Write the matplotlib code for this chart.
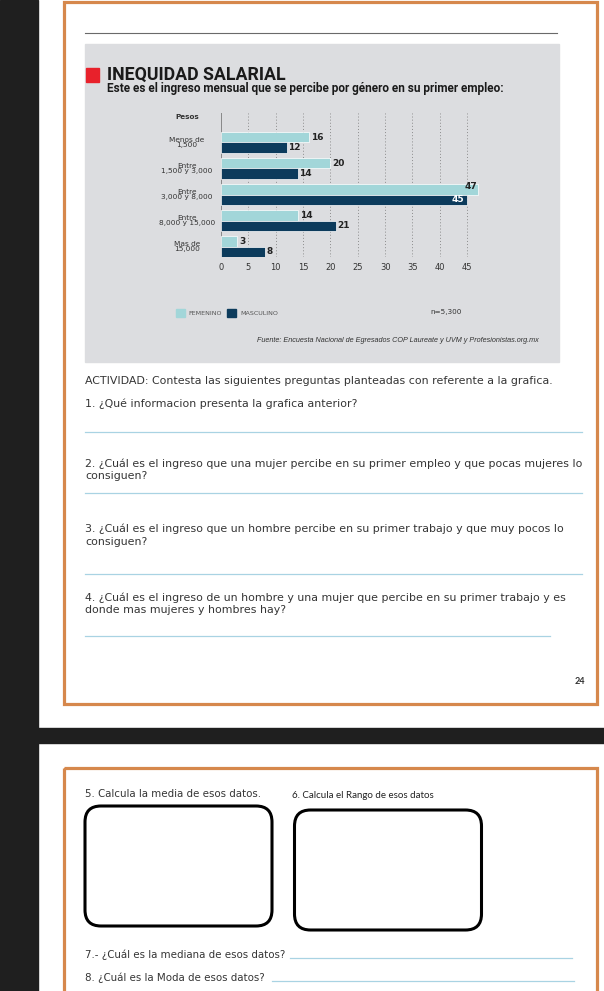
import matplotlib.pyplot as plt
from matplotlib.patches import Rectangle, FancyBboxPatch

# Datos de la gráfica
categorias = ['Menos de\n1,500', 'Entre\n1,500 y 3,000', 'Entre\n3,000 y 8,000',
              'Entre\n8,000 y 15,000', 'Mas de\n15,000']
femenino = [16, 20, 47, 14, 3]
masculino = [12, 14, 45, 21, 8]
ticks_x = [0, 5, 10, 15, 20, 25, 30, 35, 40, 45]

titulo = 'INEQUIDAD SALARIAL'
subtitulo = 'Este es el ingreso mensual que se percibe por género en su primer empleo:'
fuente = 'Fuente: Encuesta Nacional de Egresados COP Laureate y UVM y Profesionistas.org.mx'

# Colores
C_FEM = '#a2d6d9'
C_MASC = '#0c3b5c'
C_PANEL = '#dcdde0'
C_NARANJA = '#d6884c'
C_OSCURO = '#1f1f1f'
C_TEXTO = '#353535'
C_LINEA = '#a9d3e3'

fig = plt.figure(figsize=(6.04, 9.91), dpi=100)

# Fondo de la página en coordenadas de pixel
bg = fig.add_axes([0, 0, 1, 1])
bg.set_xlim(0, 604)
bg.set_ylim(991, 0)
bg.axis('off')

bg.add_patch(Rectangle((0, 0), 604, 991, color='white', zorder=0))
bg.add_patch(Rectangle((0, 0), 38, 991, color=C_OSCURO, zorder=1))
bg.add_patch(Rectangle((38, 728), 566, 15, color=C_OSCURO, zorder=1))

# Marcos naranjas
bg.add_patch(Rectangle((64, 1.5), 533, 702, fill=False, ec=C_NARANJA, lw=2.3, zorder=2))
bg.add_patch(Rectangle((64, 768), 533, 240, fill=False, ec=C_NARANJA, lw=2.3, zorder=2))

# Línea superior y panel gris
bg.plot([85, 557], [33, 33], color='#6a6a6a', lw=0.8, zorder=2)
bg.add_patch(Rectangle((85, 44), 474, 318, color=C_PANEL, zorder=2))
bg.add_patch(Rectangle((86, 68), 13, 14, color='#e8212b', zorder=3))
bg.text(107, 74.5, titulo, fontsize=12.8, fontweight='bold', family='Roboto',
        color='#1a1a1a', va='center', zorder=3)
bg.text(107, 88.5, subtitulo, fontsize=8.5, fontweight='bold', family='Roboto',
        color='#1a1a1a', va='center', zorder=4)
bg.text(187, 117, 'Pesos', fontsize=5.2, fontweight='bold', color='#333',
        ha='center', va='center', zorder=3)

# Leyenda y notas
bg.add_patch(Rectangle((176, 309), 9, 8, color=C_FEM, zorder=3))
bg.text(188, 313.5, 'FEMENINO', fontsize=4.6, color='#555', va='center', zorder=3)
bg.add_patch(Rectangle((227, 309), 9, 8, color=C_MASC, zorder=3))
bg.text(240, 313.5, 'MASCULINO', fontsize=4.6, color='#555', va='center', zorder=3)
bg.text(430, 312, 'n=5,300', fontsize=5.2, color='#333', va='center', zorder=3)
bg.text(539, 341, fuente, fontsize=5.2, style='italic', color='#333',
        ha='right', va='center', family='Liberation Sans', zorder=3)

# Gráfica de barras
ax = fig.add_axes([221 / 604, 1 - 257 / 991, 262.6 / 604, 144 / 991])
ax.patch.set_alpha(0)
pos = list(range(len(categorias)))
ax.barh([p - 0.2 for p in pos], femenino, height=0.4, color=C_FEM,
        edgecolor='white', linewidth=0.5, zorder=3)
ax.barh([p + 0.2 for p in pos], masculino, height=0.4, color=C_MASC,
        edgecolor='white', linewidth=0.5, zorder=3)
ax.set_xlim(0, 48)
ax.set_ylim(4.4, -1.13)
for p, f, m in zip(pos, femenino, masculino):
    if f > 45:
        ax.text(f - 0.1, p - 0.3, str(f), fontsize=6.5, fontweight='bold',
                color='#222', ha='right', va='center', zorder=4)
    else:
        ax.text(f + 0.4, p - 0.2, str(f), fontsize=6.5, fontweight='bold',
                color='#222', ha='left', va='center', zorder=4)
    if m > 40:
        ax.text(m - 0.6, p + 0.2, str(m), fontsize=6.5, fontweight='bold',
                color='white', ha='right', va='center', zorder=4)
    else:
        ax.text(m + 0.3, p + 0.2, str(m), fontsize=6.5, fontweight='bold',
                color='#222', ha='left', va='center', zorder=4)

ax.set_xticks(ticks_x)
ax.set_xticklabels([str(t) for t in ticks_x], fontsize=6, color='#333')
ax.set_yticks(pos)
ax.set_yticklabels(categorias, fontsize=5.3, color='#333', linespacing=0.85)
for lbl in ax.get_yticklabels():
    lbl.set_ha('center')
    lbl.set_multialignment('center')
ax.tick_params(axis='y', length=0, pad=24.5)
ax.tick_params(axis='x', length=0, pad=4)
for s in ax.spines.values():
    s.set_visible(False)
for t in ticks_x[1:]:
    ax.axvline(t, color='#8c8c8c', lw=0.7, linestyle=(0, (1, 2.2)), zorder=1)
ax.axvline(0, color='#7a7a7a', lw=1.2, zorder=2)

# Preguntas de la actividad
texto = dict(fontsize=7.95, color=C_TEXTO, va='center', family='DejaVu Sans', zorder=3)
bg.text(85, 381, 'ACTIVIDAD: Contesta las siguientes preguntas planteadas con referente a la grafica.', **texto)
bg.text(85, 404, '1. ¿Qué informacion presenta la grafica anterior?', **texto)
bg.plot([85, 582], [432, 432], color=C_LINEA, lw=0.9, zorder=3)
bg.text(85, 464, '2. ¿Cuál es el ingreso que una mujer percibe en su primer empleo y que pocas mujeres lo', **texto)
bg.text(85, 476, 'consiguen?', **texto)
bg.plot([85, 582], [493, 493], color=C_LINEA, lw=0.9, zorder=3)
bg.text(85, 529, '3. ¿Cuál es el ingreso que un hombre percibe en su primer trabajo y que muy pocos lo', **texto)
bg.text(85, 542, 'consiguen?', **texto)
bg.plot([85, 582], [574, 574], color=C_LINEA, lw=0.9, zorder=3)
bg.text(85, 598, '4. ¿Cuál es el ingreso de un hombre y una mujer que percibe en su primer trabajo y es', **texto)
bg.text(85, 610, 'donde mas mujeres y hombres hay?', **texto)
bg.plot([85, 550], [636, 636], color=C_LINEA, lw=0.9, zorder=3)
bg.text(580, 682, '24', fontsize=6.5, fontweight='bold', color='#333', ha='center',
        va='center', family='Lato', zorder=3)

# Segunda página
texto2 = dict(texto, fontsize=7.4)
bg.text(85, 794, '5. Calcula la media de esos datos.', **texto2)
bg.text(292, 796, '6. Calcula el Rango de esos datos', fontsize=7, color='#222',
        va='center', family='Lato', zorder=3)
bg.add_patch(FancyBboxPatch((92, 813), 173, 106, boxstyle='round,pad=7,rounding_size=16',
                            fill=False, ec='black', lw=2.2, zorder=3))
bg.add_patch(FancyBboxPatch((301.5, 817), 173, 106, boxstyle='round,pad=7,rounding_size=16',
                            fill=False, ec='black', lw=2.2, zorder=3))
bg.text(85, 955, '7.- ¿Cuál es la mediana de esos datos?', **texto2)
bg.plot([290, 572], [958, 958], color=C_LINEA, lw=0.9, zorder=3)
bg.text(85, 978, '8. ¿Cuál es la Moda de esos datos?', **texto2)
bg.plot([272, 574], [981, 981], color=C_LINEA, lw=0.9, zorder=3)

fig.savefig('out.png', dpi=100)
